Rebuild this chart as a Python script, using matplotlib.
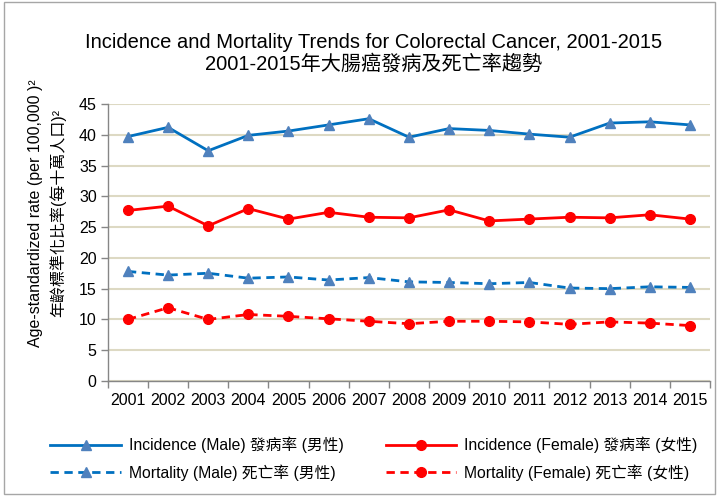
import matplotlib
matplotlib.use("Agg")
import matplotlib.pyplot as plt
from matplotlib.lines import Line2D
from matplotlib.patches import Rectangle

plt.rcParams['font.family'] = ['Liberation Sans', 'Noto Sans CJK TC', 'DejaVu Sans']

# Age-standardized rates per 100,000, 2001-2015
years = ["2001", "2002", "2003", "2004", "2005", "2006", "2007", "2008",
         "2009", "2010", "2011", "2012", "2013", "2014", "2015"]
incidence_male = [39.7, 41.2, 37.4, 39.9, 40.6, 41.6, 42.6, 39.6,
                  41.0, 40.7, 40.1, 39.6, 41.9, 42.1, 41.6]
incidence_female = [27.7, 28.4, 25.2, 28.0, 26.3, 27.4, 26.6, 26.5,
                    27.8, 26.0, 26.3, 26.6, 26.5, 27.0, 26.3]
mortality_male = [17.8, 17.2, 17.5, 16.7, 16.9, 16.4, 16.8, 16.1,
                  16.0, 15.8, 16.0, 15.1, 15.0, 15.3, 15.2]
mortality_female = [10.0, 11.9, 10.0, 10.8, 10.5, 10.1, 9.7, 9.3,
                    9.7, 9.7, 9.6, 9.2, 9.6, 9.4, 9.0]

blue = "#0070C0"
blue_marker = "#4F81BD"
red = "#FF0000"
grey = "#868686"
dashed = (0, (3, 2))

fig = plt.figure(figsize=(7.19, 4.96), dpi=100)
ax = fig.add_axes([0.150, 0.2319, 0.8375, 0.5585])

x = list(range(len(years)))
ax.plot(x, incidence_male, color=blue, lw=2, marker="^", ms=7,
        mfc=blue_marker, mec=blue_marker)
ax.plot(x, incidence_female, color=red, lw=2, marker="o", ms=7,
        mfc=red, mec=red)
ax.plot(x, mortality_male, color=blue, lw=2, ls=dashed, marker="^", ms=7,
        mfc=blue_marker, mec=blue_marker)
ax.plot(x, mortality_female, color=red, lw=2, ls=dashed, marker="o", ms=7,
        mfc=red, mec=red)

ax.set_xlim(-0.5, len(years) - 0.5)
ax.set_ylim(0, 45)
ax.set_yticks(range(0, 50, 5))
ax.yaxis.grid(True, color="#DDD9C3", lw=1.5)
ax.set_axisbelow(True)

ax.set_xticks(x)
ax.set_xticklabels(years)
ax.set_xticks([i - 0.5 for i in range(len(years) + 1)], minor=True)
ax.tick_params(axis="x", which="major", length=0, pad=9, labelsize=11.5)
ax.tick_params(axis="x", which="minor", length=5, color=grey, width=1)
ax.tick_params(axis="y", length=5, color=grey, width=1, labelsize=11.5, pad=3)

for side in ["top", "right"]:
    ax.spines[side].set_visible(False)
for side in ["left", "bottom"]:
    ax.spines[side].set_color(grey)
    ax.spines[side].set_linewidth(1)

fig.text(0.519, 0.915, "Incidence and Mortality Trends for Colorectal Cancer, 2001-2015",
         ha="center", va="center", fontsize=14.5)
fig.text(0.519, 0.872, "2001-2015年大腸癌發病及死亡率趨勢",
         ha="center", va="center", fontsize=14.5)

fig.text(0.050, 0.57, "Age-standardized rate (per 100,000 )²",
         rotation=90, ha="center", va="center", fontsize=11.5)
fig.text(0.080, 0.57, "年齡標準化比率(每十萬人口)²",
         rotation=90, ha="center", va="center", fontsize=11.5)

handles = [
    Line2D([], [], color=blue, lw=2, marker="^", ms=7, mfc=blue_marker, mec=blue_marker),
    Line2D([], [], color=blue, lw=2, ls=dashed, marker="^", ms=7,
           mfc=blue_marker, mec=blue_marker),
    Line2D([], [], color=red, lw=2, marker="o", ms=7, mfc=red, mec=red),
    Line2D([], [], color=red, lw=2, ls=dashed, marker="o", ms=7, mfc=red, mec=red),
]
labels = ["Incidence (Male) 發病率 (男性)", "Mortality (Male) 死亡率 (男性)",
          "Incidence (Female) 發病率 (女性)", "Mortality (Female) 死亡率 (女性)"]
fig.legend(handles, labels, ncol=2, loc="center", bbox_to_anchor=(0.52, 0.075),
           frameon=False, fontsize=11.3, handlelength=4.5, handletextpad=0.5,
           columnspacing=2.7, labelspacing=0.7)

fig.add_artist(Rectangle((0.006, 0.004), 0.988, 0.992, transform=fig.transFigure,
                         fill=False, edgecolor="#A6A6A6", lw=1))

fig.savefig("out.png", dpi=100)
